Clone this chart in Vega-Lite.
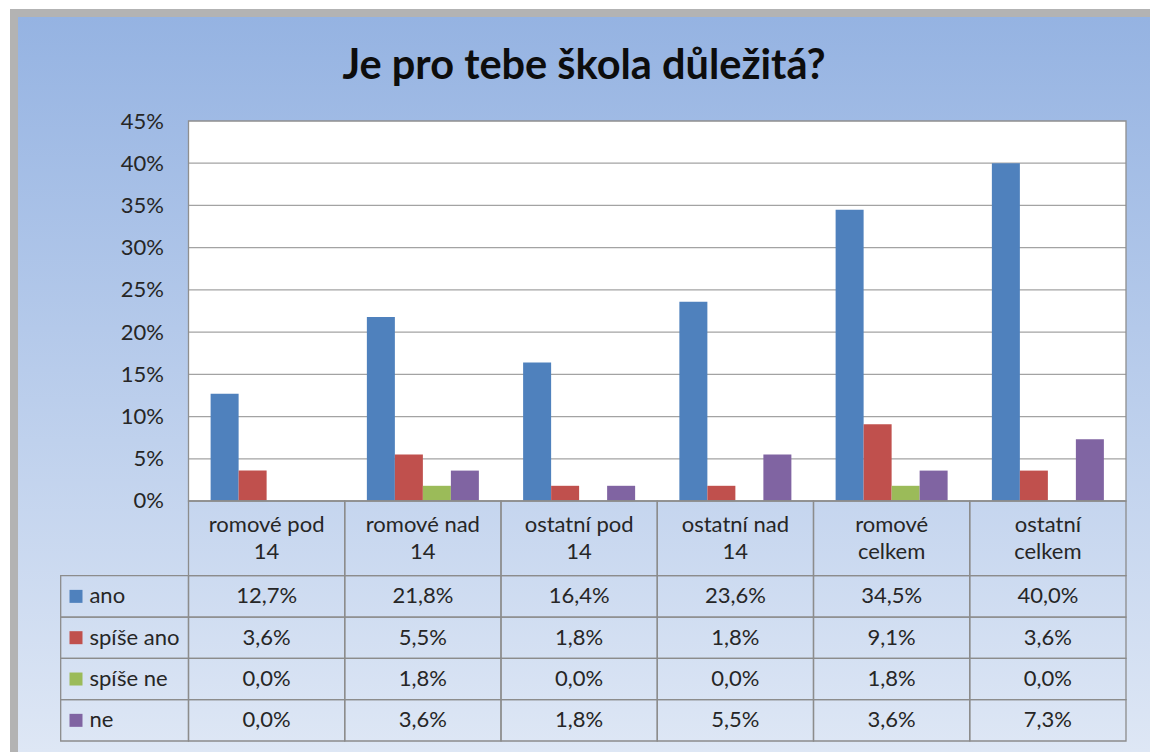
{
  "$schema": "https://vega.github.io/schema/vega-lite/v6.json",
  "width": 1132,
  "height": 735,
  "autosize": {"type": "none"},
  "padding": {"left": 18, "top": 17, "right": 0, "bottom": 0},
  "background": "#ffffff",
  "config": {
    "view": {"stroke": "#b3b3b3", "strokeWidth": 16},
    "font": "Lato",
    "locale": {"number": {"decimal": ",", "thousands": " ", "grouping": [3], "currency": ["", " Kč"]}}
  },
  "title": {
    "text": "Je pro tebe škola důležitá?",
    "font": "Lato",
    "fontSize": 41.5,
    "fontWeight": "bold",
    "color": "#0d0d0d",
    "anchor": "middle",
    "frame": "group",
    "orient": "top",
    "baseline": "alphabetic",
    "offset": -103
  },
  "datasets": {
    "odpovedi": [
      {"kategorie": "romové pod 14", "odpoved": "ano", "hodnota": 0.127},
      {"kategorie": "romové nad 14", "odpoved": "ano", "hodnota": 0.218},
      {"kategorie": "ostatní pod 14", "odpoved": "ano", "hodnota": 0.164},
      {"kategorie": "ostatní nad 14", "odpoved": "ano", "hodnota": 0.236},
      {"kategorie": "romové celkem", "odpoved": "ano", "hodnota": 0.345},
      {"kategorie": "ostatní celkem", "odpoved": "ano", "hodnota": 0.400},
      {"kategorie": "romové pod 14", "odpoved": "spíše ano", "hodnota": 0.036},
      {"kategorie": "romové nad 14", "odpoved": "spíše ano", "hodnota": 0.055},
      {"kategorie": "ostatní pod 14", "odpoved": "spíše ano", "hodnota": 0.018},
      {"kategorie": "ostatní nad 14", "odpoved": "spíše ano", "hodnota": 0.018},
      {"kategorie": "romové celkem", "odpoved": "spíše ano", "hodnota": 0.091},
      {"kategorie": "ostatní celkem", "odpoved": "spíše ano", "hodnota": 0.036},
      {"kategorie": "romové pod 14", "odpoved": "spíše ne", "hodnota": 0.0},
      {"kategorie": "romové nad 14", "odpoved": "spíše ne", "hodnota": 0.018},
      {"kategorie": "ostatní pod 14", "odpoved": "spíše ne", "hodnota": 0.0},
      {"kategorie": "ostatní nad 14", "odpoved": "spíše ne", "hodnota": 0.0},
      {"kategorie": "romové celkem", "odpoved": "spíše ne", "hodnota": 0.018},
      {"kategorie": "ostatní celkem", "odpoved": "spíše ne", "hodnota": 0.0},
      {"kategorie": "romové pod 14", "odpoved": "ne", "hodnota": 0.0},
      {"kategorie": "romové nad 14", "odpoved": "ne", "hodnota": 0.036},
      {"kategorie": "ostatní pod 14", "odpoved": "ne", "hodnota": 0.018},
      {"kategorie": "ostatní nad 14", "odpoved": "ne", "hodnota": 0.055},
      {"kategorie": "romové celkem", "odpoved": "ne", "hodnota": 0.036},
      {"kategorie": "ostatní celkem", "odpoved": "ne", "hodnota": 0.073}
    ],
    "mrizka": [
      {"uroven": 0.05}, {"uroven": 0.10}, {"uroven": 0.15}, {"uroven": 0.20},
      {"uroven": 0.25}, {"uroven": 0.30}, {"uroven": 0.35}, {"uroven": 0.40}
    ]
  },
  "layer": [
    {
      "data": {"values": [{}]},
      "mark": {
        "type": "rect",
        "color": {
          "gradient": "linear",
          "x1": 0, "y1": 0, "x2": 0, "y2": 1,
          "stops": [
            {"offset": 0, "color": "#95b3e2"},
            {"offset": 1, "color": "#dee7f5"}
          ]
        }
      },
      "encoding": {}
    },
    {
      "layer": [
        {
          "data": {"values": [{}]},
          "mark": {"type": "rect", "fill": "#ffffff", "stroke": null},
          "encoding": {
            "x": {"datum": "romové pod 14", "bandPosition": 0, "scale": {"domain": ["romové pod 14", "romové nad 14", "ostatní pod 14", "ostatní nad 14", "romové celkem", "ostatní celkem"], "paddingInner": 0, "paddingOuter": 0.6224, "align": 0.8766}, "axis": null},
            "x2": {"datum": "ostatní celkem", "bandPosition": 1},
            "y": {"datum": 0, "type": "quantitative", "scale": {"domain": [-0.29724, 0.57316], "nice": false, "zero": false},
              "axis": {"values": [0, 0.05, 0.1, 0.15, 0.2, 0.25, 0.3, 0.35, 0.4, 0.45], "format": ".0%", "offset": -170.5, "ticks": false, "domain": false, "grid": false, "labelPadding": 25, "labelFont": "Lato", "labelFontSize": 22, "labelColor": "#262626", "title": null, "zindex": 2}},
            "y2": {"datum": 0.45}
          }
        },
        {
          "data": {"name": "mrizka"},
          "mark": {"type": "rule", "color": "#a3a3a3", "strokeWidth": 1.3},
          "encoding": {
            "x": {"datum": "romové pod 14", "bandPosition": 0, "scale": {"domain": ["romové pod 14", "romové nad 14", "ostatní pod 14", "ostatní nad 14", "romové celkem", "ostatní celkem"]}, "axis": null},
            "x2": {"datum": "ostatní celkem", "bandPosition": 1},
            "y": {"field": "uroven", "type": "quantitative", "title": null}
          }
        },
        {
          "data": {"name": "odpovedi"},
          "mark": {"type": "bar"},
          "encoding": {
            "x": {"field": "kategorie", "type": "nominal", "scale": {"domain": ["romové pod 14", "romové nad 14", "ostatní pod 14", "ostatní nad 14", "romové celkem", "ostatní celkem"]}, "axis": null},
            "xOffset": {"field": "odpoved", "type": "nominal", "scale": {"domain": ["ano", "spíše ano", "spíše ne", "ne"], "paddingInner": 0, "paddingOuter": 0.79}},
            "y": {"field": "hodnota", "type": "quantitative", "title": null},
            "y2": {"datum": 0},
            "color": {"field": "odpoved", "type": "nominal", "scale": {"domain": ["ano", "spíše ano", "spíše ne", "ne"], "range": ["#4f81bd", "#c0504d", "#9bbb59", "#8064a2"]}, "legend": null}
          }
        },
        {
          "data": {"values": [{}]},
          "mark": {"type": "rect", "fill": null, "stroke": "#8f8f8f", "strokeWidth": 1.3},
          "encoding": {
            "x": {"datum": "romové pod 14", "bandPosition": 0, "scale": {"domain": ["romové pod 14", "romové nad 14", "ostatní pod 14", "ostatní nad 14", "romové celkem", "ostatní celkem"]}, "axis": null},
            "x2": {"datum": "ostatní celkem", "bandPosition": 1},
            "y": {"datum": 0, "type": "quantitative"},
            "y2": {"datum": 0.45}
          }
        }
      ]
    },
    {
      "data": {"name": "odpovedi"},
      "transform": [
        {"filter": "datum.odpoved === 'ano'"},
        {"calculate": "[slice(datum.kategorie, 0, lastindexof(datum.kategorie, ' ')), slice(datum.kategorie, lastindexof(datum.kategorie, ' ') + 1)]", "as": "radky"}
      ],
      "encoding": {
        "x": {"field": "kategorie", "type": "nominal", "scale": {"domain": ["romové pod 14", "romové nad 14", "ostatní pod 14", "ostatní nad 14", "romové celkem", "ostatní celkem"]}, "axis": null},
        "y": {"datum": "záhlaví", "type": "nominal", "scale": {"domain": ["záhlaví"], "paddingInner": 0.7737, "paddingOuter": 1, "align": 0.733}, "axis": null}
      },
      "layer": [
        {"mark": {"type": "rect", "fill": null, "stroke": "#8c8c8c", "strokeWidth": 1.3}},
        {
          "mark": {"type": "text", "font": "Lato", "fontSize": 22, "color": "#262626", "align": "center", "baseline": "middle", "lineHeight": 26.6, "dy": -13.3},
          "encoding": {"text": {"field": "radky"}}
        }
      ]
    },
    {
      "data": {"name": "odpovedi"},
      "encoding": {
        "y": {"datum": "tabulka", "type": "nominal", "scale": {"domain": ["tabulka"], "paddingInner": 0.4197, "paddingOuter": 1, "align": 0.9807}, "axis": null},
        "yOffset": {"field": "odpoved", "type": "nominal", "scale": {"domain": ["ano", "spíše ano", "spíše ne", "ne"], "paddingInner": 0, "paddingOuter": 0}}
      },
      "layer": [
        {
          "mark": {"type": "rect", "fill": null, "stroke": "#8c8c8c", "strokeWidth": 1.3},
          "encoding": {
            "x": {"field": "kategorie", "type": "nominal", "scale": {"domain": ["romové pod 14", "romové nad 14", "ostatní pod 14", "ostatní nad 14", "romové celkem", "ostatní celkem"]}, "axis": null}
          }
        },
        {
          "mark": {"type": "text", "font": "Lato", "fontSize": 22, "color": "#262626", "align": "center", "baseline": "middle"},
          "encoding": {
            "x": {"field": "kategorie", "type": "nominal", "scale": {"domain": ["romové pod 14", "romové nad 14", "ostatní pod 14", "ostatní nad 14", "romové celkem", "ostatní celkem"]}, "axis": null},
            "text": {"field": "hodnota", "type": "quantitative", "format": ".1%"}
          }
        },
        {
          "transform": [{"filter": "datum.kategorie === 'romové pod 14'"}],
          "mark": {"type": "rect", "fill": null, "stroke": "#8c8c8c", "strokeWidth": 1.3},
          "encoding": {
            "x": {"datum": "romové pod 14", "bandPosition": -0.818, "scale": {"domain": ["romové pod 14", "romové nad 14", "ostatní pod 14", "ostatní nad 14", "romové celkem", "ostatní celkem"]}, "axis": null},
            "x2": {"datum": "romové pod 14", "bandPosition": 0}
          }
        },
        {
          "transform": [{"filter": "datum.kategorie === 'romové pod 14'"}],
          "mark": {"type": "square", "size": 169, "filled": true, "opacity": 1},
          "encoding": {
            "x": {"datum": "romové pod 14", "bandPosition": -0.72, "scale": {"domain": ["romové pod 14", "romové nad 14", "ostatní pod 14", "ostatní nad 14", "romové celkem", "ostatní celkem"]}, "axis": null},
            "color": {"field": "odpoved", "type": "nominal", "legend": null}
          }
        },
        {
          "transform": [{"filter": "datum.kategorie === 'romové pod 14'"}],
          "mark": {"type": "text", "font": "Lato", "fontSize": 22, "color": "#262626", "align": "left", "baseline": "middle"},
          "encoding": {
            "x": {"datum": "romové pod 14", "bandPosition": -0.634, "scale": {"domain": ["romové pod 14", "romové nad 14", "ostatní pod 14", "ostatní nad 14", "romové celkem", "ostatní celkem"]}, "axis": null},
            "text": {"field": "odpoved", "type": "nominal"}
          }
        }
      ]
    }
  ],
  "resolve": {"scale": {"y": "independent"}, "axis": {"y": "independent"}}
}
